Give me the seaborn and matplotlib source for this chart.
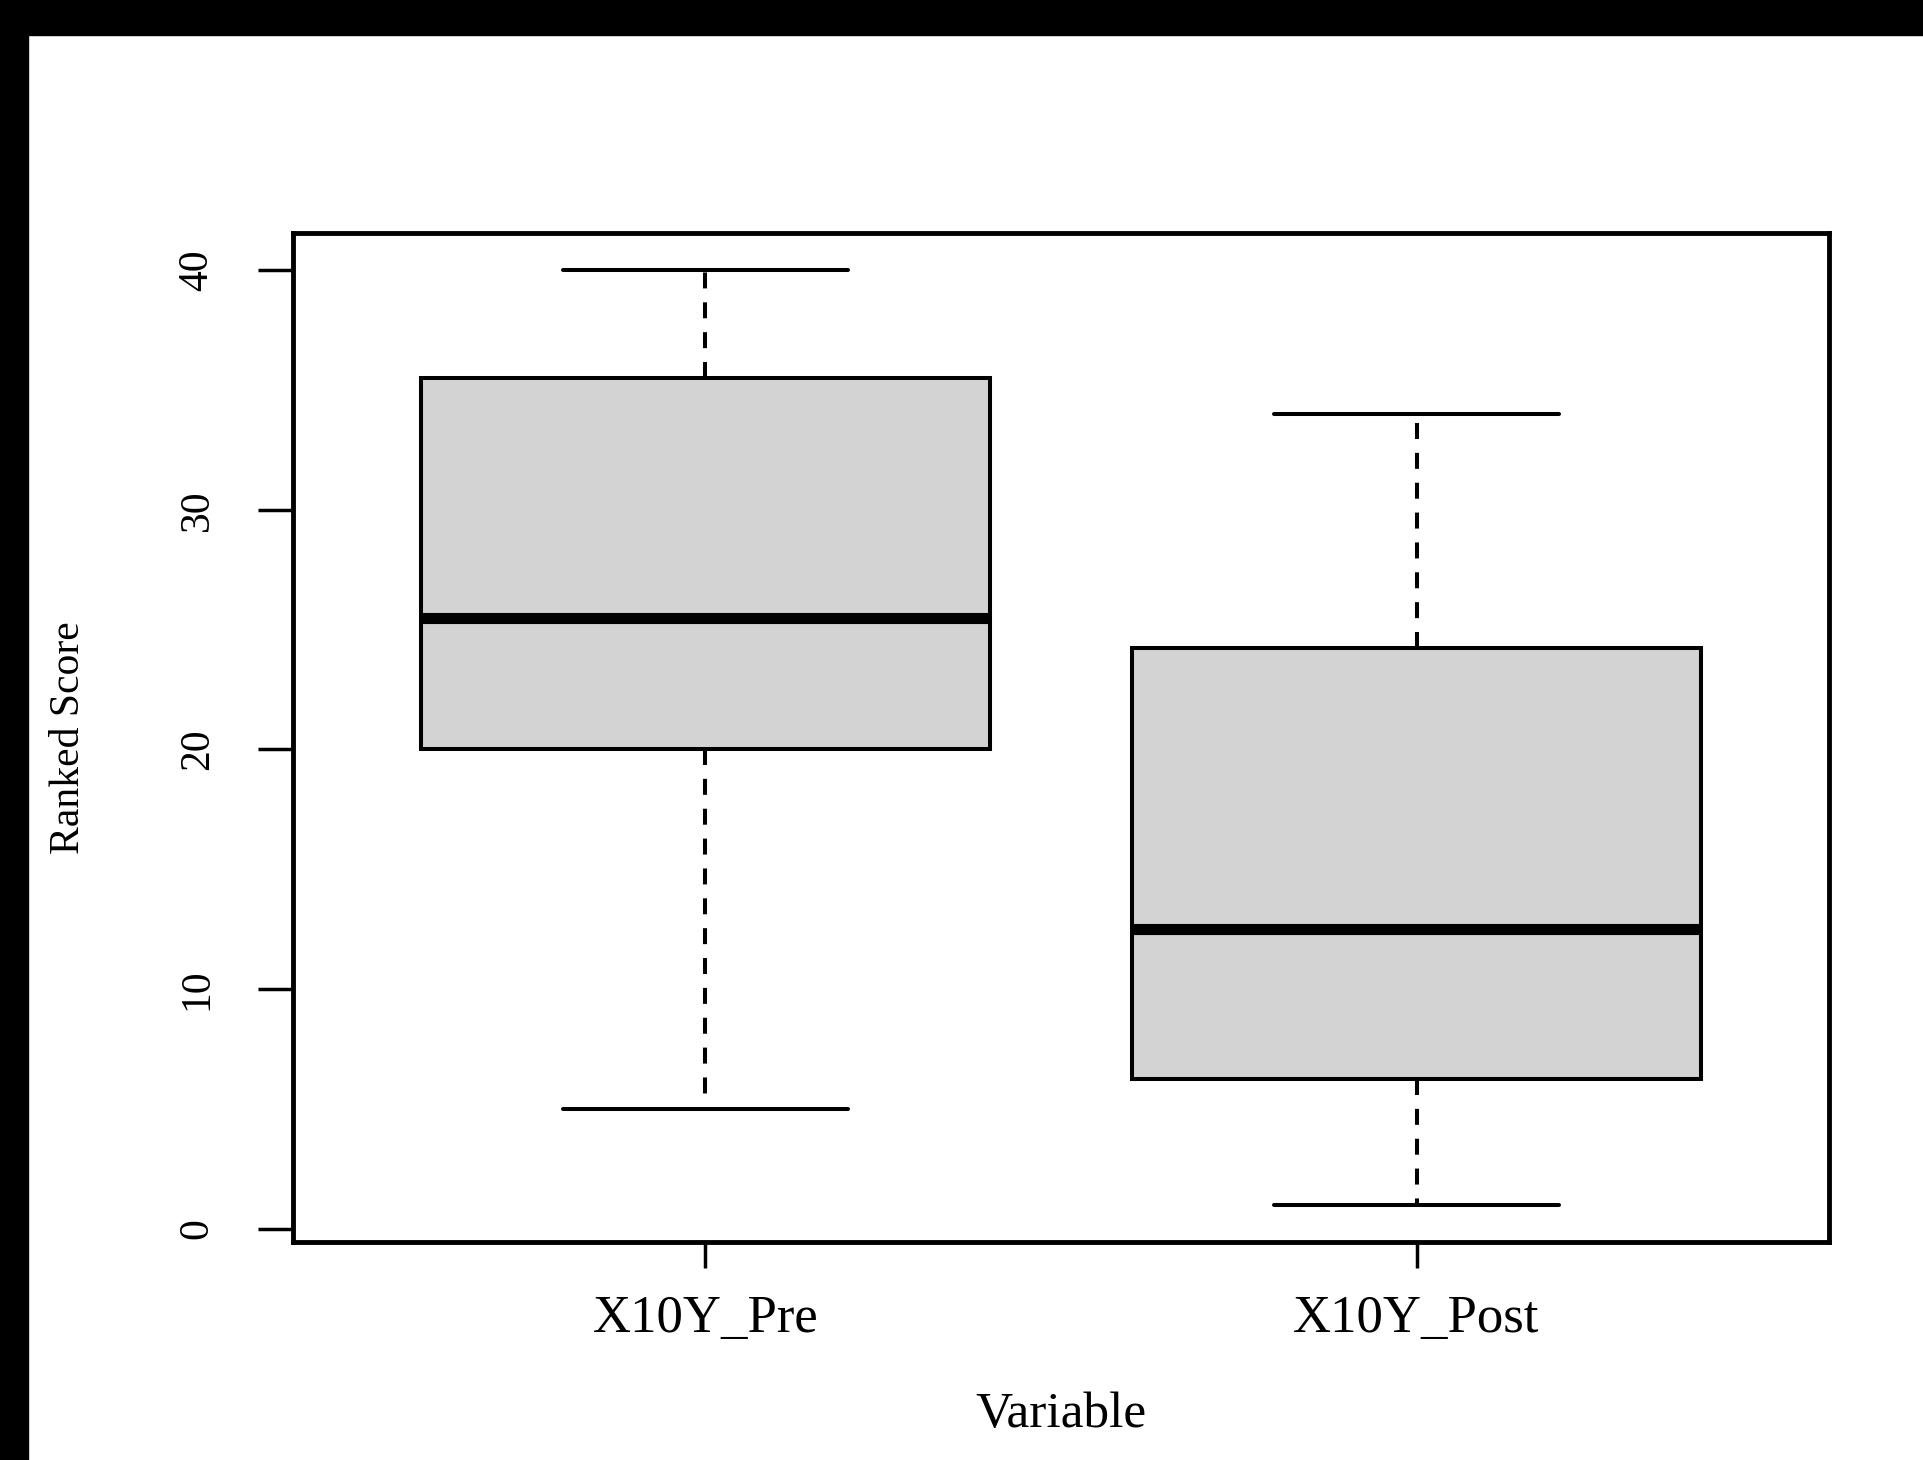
import pandas as pd
import matplotlib.pyplot as plt
import seaborn as sns
from matplotlib.patches import Rectangle

# five-number summaries (min, Q1, median, Q3, max)
groups = ['X10Y_Pre', 'X10Y_Post']
pre_scores = [5, 20, 25.5, 35.5, 40]
post_scores = [1, 6.25, 12.5, 24.25, 34]
y_ticks = [0, 10, 20, 30, 40]

df = pd.DataFrame({
    'Variable': [groups[0]] * len(pre_scores) + [groups[1]] * len(post_scores),
    'Ranked Score': pre_scores + post_scores,
})

sns.set_style('white')
plt.rcParams['font.family'] = ['Liberation Serif', 'DejaVu Serif']
plt.rcParams['lines.scale_dashes'] = False
plt.rcParams['text.color'] = 'black'
plt.rcParams['axes.labelcolor'] = 'black'
plt.rcParams['xtick.color'] = 'black'
plt.rcParams['ytick.color'] = 'black'

fig = plt.figure(figsize=(19.24, 14.6), dpi=100, facecolor='white')
ax = fig.add_axes([0.1523, 0.1493, 0.7983, 0.6911])

lw = 2.9
sns.boxplot(data=df, x='Variable', y='Ranked Score', order=groups, ax=ax,
            color='lightgray', saturation=1, linecolor='black', linewidth=lw,
            width=0.8, whis=1.5, fliersize=0,
            medianprops=dict(linewidth=8, color='black', solid_capstyle='butt'),
            whiskerprops=dict(linestyle=(0, (11.5, 10)), linewidth=lw),
            capprops=dict(linewidth=lw))

ax.set_xlim(-0.58, 1.58)
ax.set_ylim(-0.56, 41.56)
ax.set_yticks(y_ticks)
ax.set_yticklabels([str(t) for t in y_ticks], rotation=90, va='center', fontsize=30)
ax.tick_params(axis='x', labelsize=38, length=19, width=2.5, pad=19, direction='out', bottom=True)
ax.tick_params(axis='y', length=25, width=2.5, pad=30, direction='out', left=True)

for s in ax.spines.values():
    s.set_visible(True)
    s.set_linewidth(3.5)
    s.set_color('black')

ax.set_xlabel('Variable', fontsize=37)
ax.set_ylabel('Ranked Score', fontsize=30)
ax.xaxis.label.set_va('center')
ax.xaxis.set_label_coords(0.5, -0.1715)
ax.yaxis.label.set_va('center')
ax.yaxis.set_label_coords(-0.1458, 0.5)

# black frame bands at the top and left edges of the picture
fig.patches.append(Rectangle((0, 1 - 35 / 1460), 1, 35 / 1460, transform=fig.transFigure,
                             color='black', zorder=10))
fig.patches.append(Rectangle((0, 0), 28 / 1924, 1, transform=fig.transFigure,
                             color='black', zorder=10))

fig.savefig('out.png', dpi=100, facecolor='white')
